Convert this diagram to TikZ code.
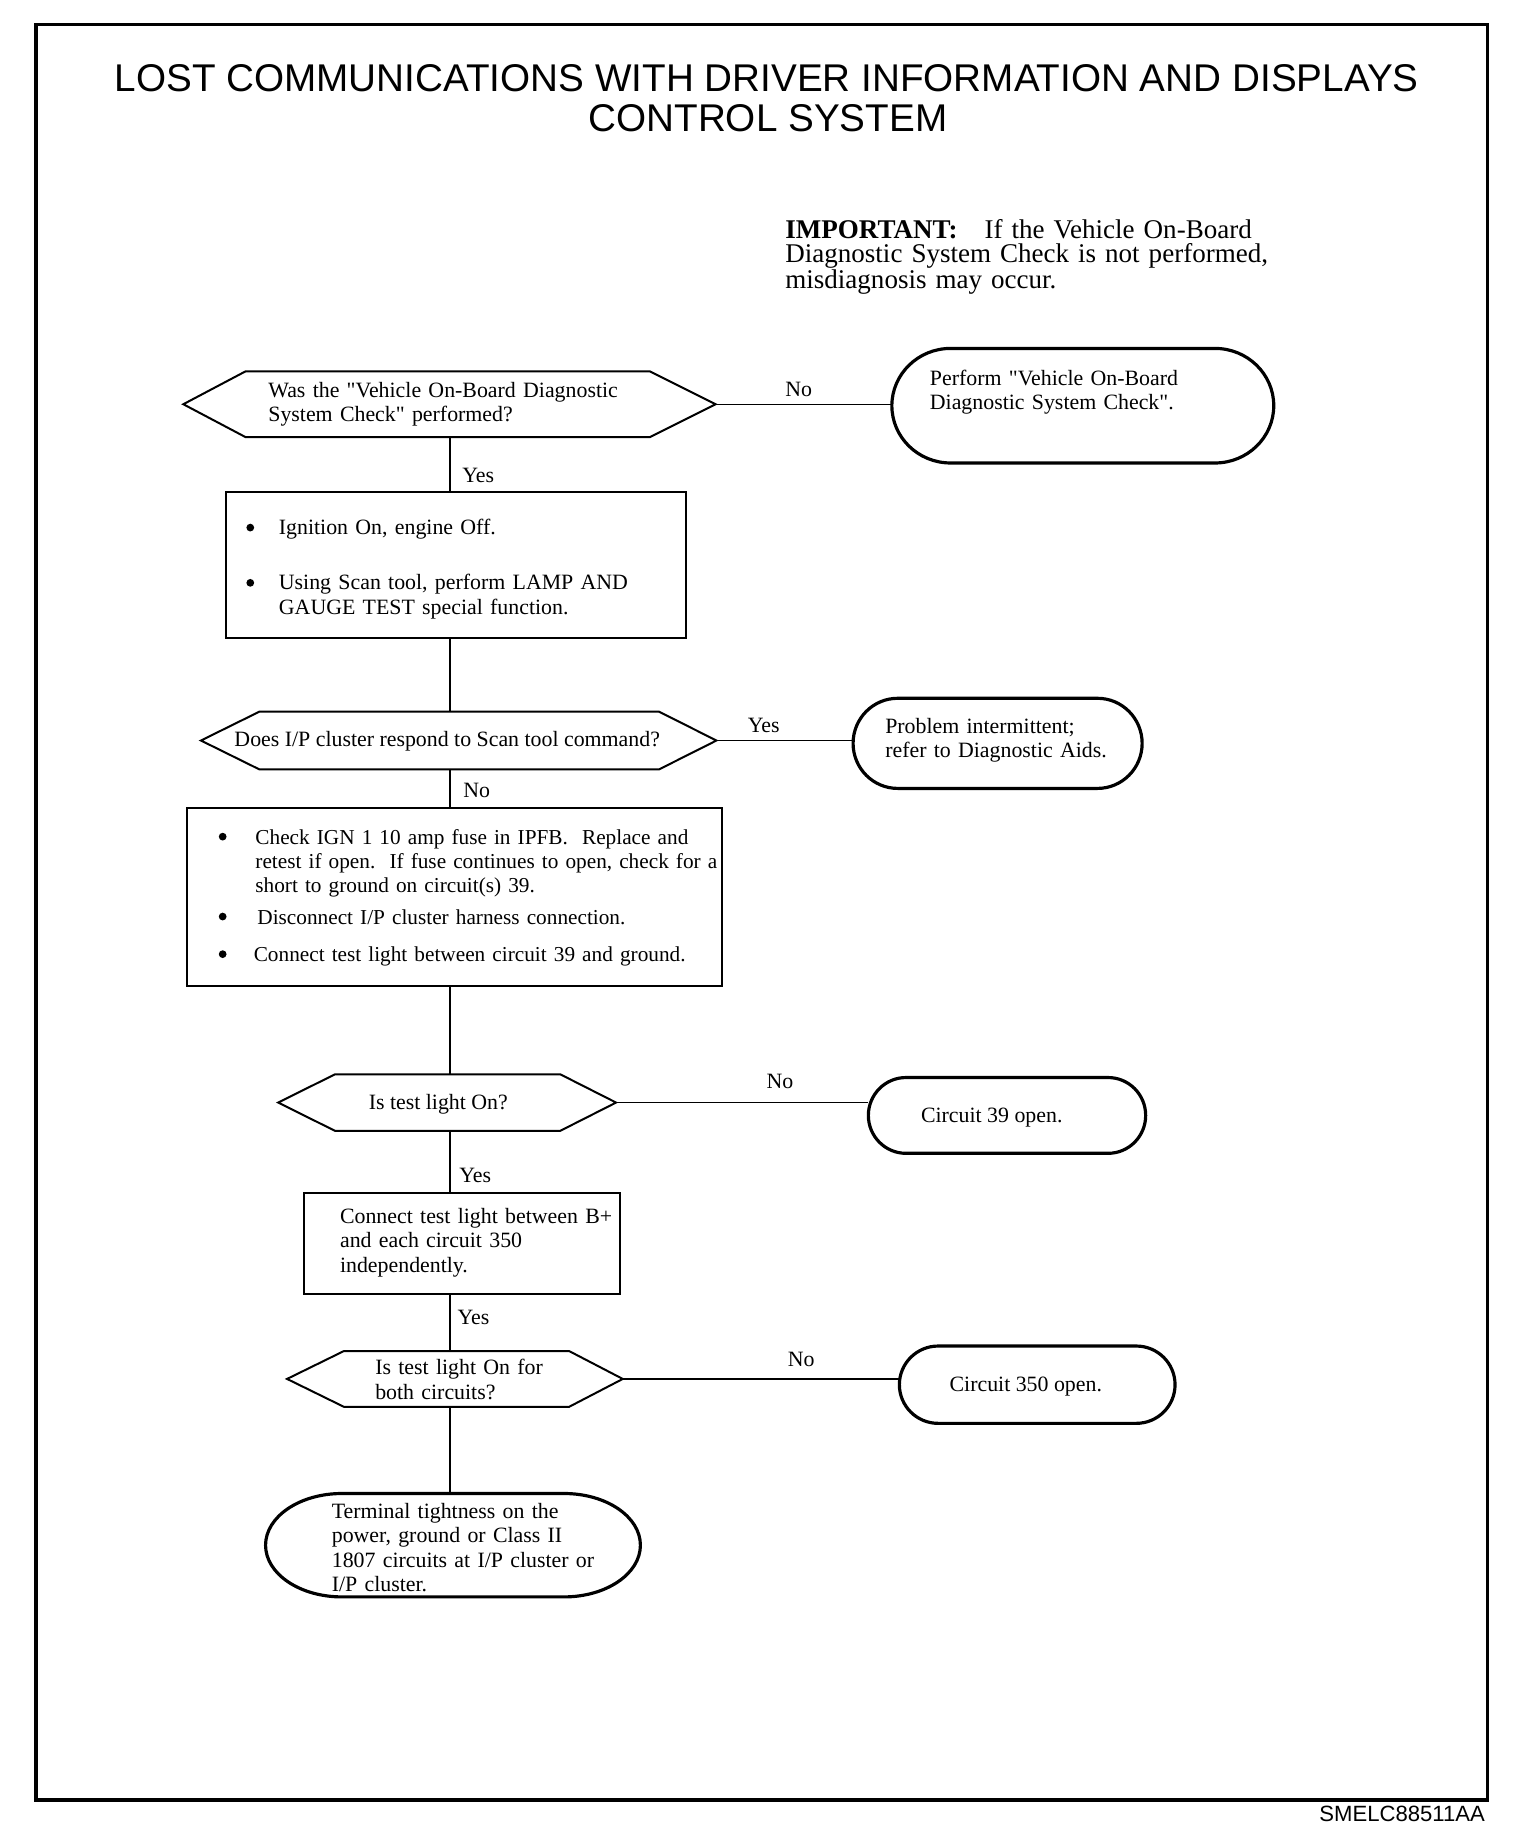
\documentclass[tikz,border=0pt]{standalone}
\usepackage{fontspec}
\setmainfont{Liberation Serif}[Ligatures=TeXOff]
\newfontfamily\titlefont{Liberation Sans}
\usetikzlibrary{calc}
\frenchspacing
\newcommand\bxfont{\fontsize{9.3}{10.4}\selectfont\frenchspacing}
\newcommand\bxsfont{\fontsize{9.05}{10.3}\selectfont\frenchspacing}
\newcommand\impfont{\fontsize{11.5}{10}\selectfont}
\newcommand\hexout[3]{\draw[hexline] (#1.west) -- ([xshift=#2]#1.north west) -- ([xshift=-#3]#1.north east) -- (#1.east) -- ([xshift=-#3]#1.south east) -- ([xshift=#2]#1.south west) -- cycle;}
\newcommand\termout[3]{\draw[termline] ([xshift=#2]#1.north west) -- ([xshift=-#2]#1.north east) arc[start angle=90, end angle=-90, x radius=#2, y radius=#3] -- ([xshift=#2]#1.south west) arc[start angle=270, end angle=90, x radius=#2, y radius=#3] -- cycle;}
\tikzset{
  shapebox/.style={inner sep=0pt, outer sep=0pt, draw=none},
  boxnode/.style={inner sep=0pt, outer sep=0pt, draw, line width=0.9pt},
  hexline/.style={line width=0.85pt, line join=miter},
  termline/.style={line width=1.35pt},
  conn/.style={line width=0.6pt},
  frameline/.style={line width=1.5pt},
  txt/.style={font=\bxfont, inner sep=0pt, anchor=base west, align=left, text width=260pt},
  stxt/.style={font=\bxsfont, inner sep=0pt, anchor=base west, align=left, text width=260pt},
  ctxt/.style={font=\bxfont, inner sep=0pt, anchor=base},
  lbl/.style={font=\bxfont, inner sep=0pt, anchor=base west},
  bul/.style={circle, fill, inner sep=0pt, minimum size=3.3pt},
}
\begin{document}
\begin{tikzpicture}[x=0.5pt, y=-0.5pt]
\useasboundingbox (0,0) rectangle (1294,1571);
\draw[frameline] (30.5,21) rectangle (1266,1532);

% title
\node[font=\titlefont\fontsize{16.45}{16.7}\selectfont, inner sep=0pt, anchor=base] (title1) at (652.5,78) {LOST COMMUNICATIONS WITH DRIVER INFORMATION AND DISPLAYS};
\node[font=\titlefont\fontsize{16.45}{16.7}\selectfont, inner sep=0pt, anchor=base] (title2) at (653.5,112) {CONTROL SYSTEM};

% important note
\node[font=\impfont, inner sep=0pt, anchor=base west, align=left, text width=300pt] (imp) at (668,203) {\textbf{IMPORTANT:}\quad If the Vehicle On-Board\\Diagnostic System Check is not performed,\\misdiagnosis may occur.};

\coordinate (spine) at (383,0);

% decision 1
\node[shapebox, minimum width=226.5pt, minimum height=28pt] (d1) at (382.5,344) {};
\hexout{d1}{26.5pt}{28pt}
\node[txt] (d1t) at (228,338) {Was the "Vehicle On-Board Diagnostic\\System Check" performed?};

% terminal 1
\node[shapebox, minimum width=162.5pt, minimum height=48.75pt] (t1) at (921.5,345.25) {};
\termout{t1}{25pt}{24.375pt}
\node[txt] (t1t) at (791,328) {Perform "Vehicle On-Board\\Diagnostic System Check".};

% box 1
\node[boxnode, minimum width=195.8pt, minimum height=62pt] (b1) at (387.8,481) {};
\node[bul] (b1u1) at (213,449) {};
\node[txt] (b1t1) at (237,455) {Ignition On, engine Off.};
\node[bul] (b1u2) at (213,496) {};
\node[txt] (b1t2) at (237,502) {Using Scan tool, perform LAMP AND\\GAUGE TEST special function.};

% decision 2
\node[shapebox, minimum width=219.35pt, minimum height=24.5pt] (d2) at (390.35,630.2) {};
\hexout{d2}{24.8pt}{24.35pt}
\node[ctxt] (d2t) at (380.6,635.5) {Does I/P cluster respond to Scan tool command?};

% terminal 2
\node[shapebox, minimum width=123pt, minimum height=38.35pt] (t2) at (849,632.6) {};
\termout{t2}{19pt}{19.175pt}
\node[txt] (t2t) at (753,624) {Problem intermittent;\\refer to Diagnostic Aids.};

% box 2
\node[boxnode, minimum width=227.75pt, minimum height=75.8pt] (b2) at (386.75,763.2) {};
\node[bul] (b2u1) at (189.5,712) {};
\node[stxt] (b2t1) at (217,718.5) {Check IGN 1 10 amp fuse in IPFB.\ \ Replace and\\retest if open.\ \ If fuse continues to open, check for a\\short to ground on circuit(s) 39.};
\node[bul] (b2u2) at (189.5,780) {};
\node[stxt] (b2t2) at (218.7,786.5) {Disconnect I/P cluster harness connection.};
\node[bul] (b2u3) at (189.5,812) {};
\node[stxt] (b2t3) at (215.6,818.6) {Connect test light between circuit 39 and ground.};

% decision 3
\node[shapebox, minimum width=143.8pt, minimum height=24pt] (d3) at (380.5,938.3) {};
\hexout{d3}{24.15pt}{23.7pt}
\node[ctxt] (d3t) at (373,944.5) {Is test light On?};

% terminal 3
\node[shapebox, minimum width=118pt, minimum height=32.25pt] (t3) at (857,949.25) {};
\termout{t3}{16pt}{16.125pt}
\node[ctxt] (t3t) at (844,955) {Circuit 39 open.};

% box 3
\node[boxnode, minimum width=134.8pt, minimum height=42.85pt] (b3) at (393.2,1058.45) {};
\node[txt] (b3t) at (289,1041) {Connect test light between B+\\and each circuit 350\\independently.};

% decision 4
\node[shapebox, minimum width=142.85pt, minimum height=23.7pt] (d4) at (387.15,1173.5) {};
\hexout{d4}{24.15pt}{22.8pt}
\node[txt] (d4t) at (319,1170) {Is test light On for\\both circuits?};

% terminal 4
\node[shapebox, minimum width=117.3pt, minimum height=32.9pt] (t4) at (882.7,1178.4) {};
\termout{t4}{16.5pt}{16.45pt}
\node[ctxt] (t4t) at (873,1184.5) {Circuit 350 open.};

% terminal 5
\node[shapebox, minimum width=159.5pt, minimum height=44pt] (t5) at (385.5,1315) {};
\termout{t5}{32.5pt}{22pt}
\node[txt] (t5t) at (282,1292) {Terminal tightness on the\\power, ground or Class II\\1807 circuits at I/P cluster or\\I/P cluster.};

% connectors
\draw[conn] (d1.south -| spine) -- (b1.north -| spine);
\draw[conn] (b1.south -| spine) -- (d2.north -| spine);
\draw[conn] (d2.south -| spine) -- (b2.north -| spine);
\draw[conn] (b2.south -| spine) -- (d3.north -| spine);
\draw[conn] (d3.south -| spine) -- (b3.north -| spine);
\draw[conn] (b3.south -| spine) -- (d4.north -| spine);
\draw[conn] (d4.south -| spine) -- (t5.north -| spine);
\draw[conn] (d1.east) -- (d1.east -| t1.west);
\draw[conn] (d2.east) -- (d2.east -| t2.west);
\draw[conn] (d3.east) -- (d3.east -| t3.west);
\draw[conn] (d4.east) -- (d4.east -| t4.west);

% labels
\node[lbl] (l1) at (668,337) {No};
\node[lbl] (l2) at (393,411) {Yes};
\node[lbl] (l3) at (636,623) {Yes};
\node[lbl] (l4) at (394,679) {No};
\node[lbl] (l5) at (652,926) {No};
\node[lbl] (l6) at (390.5,1006) {Yes};
\node[lbl] (l7) at (389,1127) {Yes};
\node[lbl] (l8) at (670,1163) {No};

\node[font=\titlefont\fontsize{9.4}{10}\selectfont, inner sep=0pt, anchor=base east] (code) at (1264,1550) {SMELC88511AA};
\end{tikzpicture}
\end{document}
